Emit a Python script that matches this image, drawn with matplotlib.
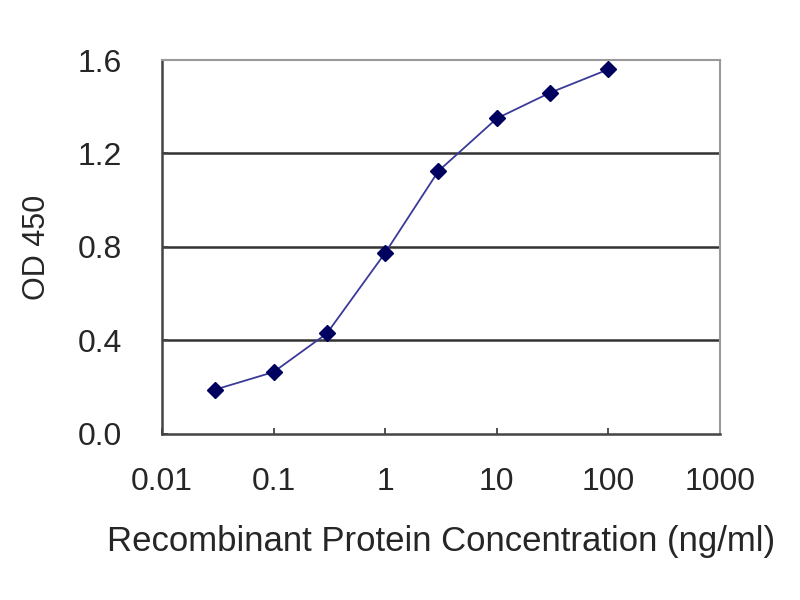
import matplotlib.pyplot as plt
import numpy as np

conc = [0.03, 0.1, 0.3, 1, 3, 10, 30, 100]
od = [0.19, 0.265, 0.43, 0.775, 1.125, 1.35, 1.46, 1.56]
xticks = [0.01, 0.1, 1, 10, 100, 1000]
xtick_labels = ["0.01", "0.1", "1", "10", "100", "1000"]
yticks = [0.0, 0.4, 0.8, 1.2, 1.6]

plt.rcParams['font.family'] = ['Liberation Sans', 'DejaVu Sans']

fig = plt.figure(figsize=(8, 6), dpi=100)
ax = fig.add_axes([0.2025, 0.2767, 0.6975, 0.6233])

# grille horizontale
for y in yticks[1:-1]:
    ax.axhline(y, color='#333333', lw=1.8, zorder=1)

ax.plot(conc, od, color='#3a3a9a', lw=1.3, zorder=2)
ax.plot(conc, od, linestyle='none', marker='D', markersize=8,
        color='#00005e', zorder=3)

ax.set_xscale('log')
ax.set_xlim(0.01, 1000)
ax.set_ylim(0, 1.6)
ax.set_xticks(xticks)
ax.set_xticklabels(xtick_labels)
ax.set_yticks(yticks)
ax.set_yticklabels([f"{v:.1f}" for v in yticks])
ax.minorticks_off()

ax.tick_params(labelsize=23, length=4, width=1.3, color='#444444',
               labelcolor='#262626', direction='in')
ax.tick_params(axis='x', pad=24)
ax.tick_params(axis='y', pad=29)

ax.spines['left'].set_color('#444444')
ax.spines['bottom'].set_color('#444444')
ax.spines['left'].set_linewidth(1.8)
ax.spines['bottom'].set_linewidth(1.8)
ax.spines['top'].set_color('#999999')
ax.spines['right'].set_color('#999999')
ax.spines['top'].set_linewidth(1.5)
ax.spines['right'].set_linewidth(1.5)

ax.set_xlabel('Recombinant Protein Concentration (ng/ml)', fontsize=25,
              color='#262626', labelpad=20)
ax.set_ylabel('OD 450', fontsize=22, color='#262626', labelpad=18)

plt.savefig('out.png', dpi=100)
